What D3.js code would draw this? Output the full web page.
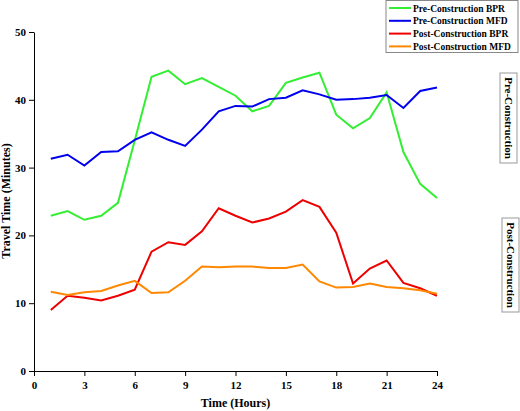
<!doctype html>
<html>
<head>
<style>
  body { margin:0; background:#fff; }
  text { font-family: "Liberation Serif", serif; font-weight: bold; }
</style>
</head>
<body>
<script src="https://d3js.org/d3.v7.min.js"></script>
<script>
  var hours = d3.range(1, 25);
  var preBPR = [22.9,23.6,22.3,22.9,24.8,34,43.4,44.3,42.3,43.2,41.9,40.6,38.3,39.1,42.5,43.3,44,37.8,35.8,37.3,41.1,32.3,27.6,25.5];
  var preMFD = [31.3,31.9,30.3,32.3,32.4,34.1,35.2,34.1,33.2,35.6,38.3,39.1,39,40.1,40.3,41.4,40.8,40,40.1,40.3,40.7,38.8,41.3,41.8];
  var postBPR = [9.0,11.1,10.8,10.4,11.1,12,17.6,19,18.6,20.6,24,22.9,21.9,22.5,23.5,25.2,24.2,20.4,12.9,15.1,16.3,13,12.2,11.1];
  var postMFD = [11.7,11.2,11.6,11.8,12.6,13.3,11.5,11.6,13.3,15.4,15.3,15.4,15.4,15.2,15.2,15.7,13.2,12.3,12.4,12.9,12.4,12.2,11.9,11.4];
  var seriesNames = ["Pre-Construction BPR","Pre-Construction MFD","Post-Construction BPR","Post-Construction MFD"];
  var seriesColors = ["#33ee33","#0000ee","#ee0000","#ff8800"];
  var xTicks = [0,3,6,9,12,15,18,21,24];
  var yTicks = [0,10,20,30,40,50];

  var width = 520, height = 411;
  var svg = d3.select("body").append("svg").attr("width", width).attr("height", height);
  var x = d3.scaleLinear().domain([0,24]).range([34,437]);
  var y = d3.scaleLinear().domain([0,50]).range([371,32]);

  svg.append("g").attr("transform","translate(0,371)")
     .call(d3.axisBottom(x).tickValues(xTicks).tickSize(5).tickSizeOuter(0))
     .call(g => g.selectAll("text").attr("font-size",11).attr("dy","0.9em"));
  svg.append("g").attr("transform","translate(34,0)")
     .call(d3.axisLeft(y).tickValues(yTicks).tickSize(5).tickSizeOuter(0))
     .call(g => g.selectAll("text").attr("font-size",11));
  svg.selectAll(".domain, .tick line").attr("stroke","#000");

  svg.append("text").attr("x",(34+437)/2).attr("y",407).attr("text-anchor","middle")
     .attr("font-size",12).text("Time (Hours)");
  svg.append("text").attr("transform","translate(10,201) rotate(-90)").attr("text-anchor","middle")
     .attr("font-size",12).text("Travel Time (Minutes)");

  var all = [preBPR, preMFD, postBPR, postMFD];
  var line = d3.line().x((d,i) => x(hours[i])).y(d => y(d));
  all.forEach(function(s, k) {
    svg.append("path").attr("d", line(s)).attr("fill","none")
       .attr("stroke", seriesColors[k]).attr("stroke-width",2);
  });

  // legend
  var lg = svg.append("g");
  lg.append("rect").attr("x",386).attr("y",0.5).attr("width",132).attr("height",52)
    .attr("fill","#fff").attr("stroke","#888");
  seriesNames.forEach(function(n, k) {
    var yy = 8 + k*12.8;
    lg.append("line").attr("x1",389).attr("x2",411).attr("y1",yy).attr("y2",yy)
      .attr("stroke",seriesColors[k]).attr("stroke-width",2);
    lg.append("text").attr("x",413).attr("y",yy+3.5).attr("font-size",9.5).text(n);
  });

  // side labels
  [["Pre-Construction",500,73,90],["Post-Construction",502,218,94]].forEach(function(d) {
    svg.append("rect").attr("x",d[1]).attr("y",d[2]).attr("width",17).attr("height",d[3])
       .attr("fill","#fff").attr("stroke","#999");
    svg.append("text").attr("transform","translate("+(d[1]+4.5)+","+(d[2]+d[3]/2)+") rotate(90)")
       .attr("text-anchor","middle").attr("font-size",11).text(d[0]);
  });
</script>
</body>
</html>
